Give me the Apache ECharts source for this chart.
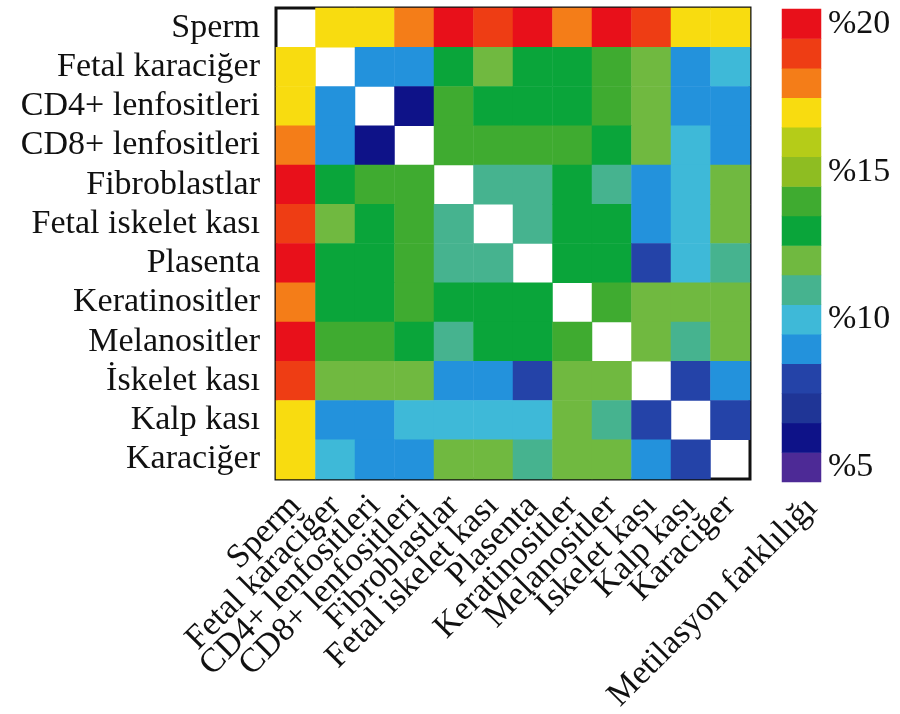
<!DOCTYPE html>
<html>
<head>
<meta charset="utf-8">
<script src="https://cdn.jsdelivr.net/npm/echarts@6/dist/echarts.min.js"></script>
<style>
  html, body { margin: 0; padding: 0; background: #fff; }
  #main { width: 900px; height: 714px; }
</style>
</head>
<body>
<div id="main"></div>
<script>
// doku isimleri (satir = sutun)
var tissues = ['Sperm', 'Fetal karaciğer', 'CD4+ lenfositleri', 'CD8+ lenfositleri',
  'Fibroblastlar', 'Fetal iskelet kası', 'Plasenta', 'Keratinositler',
  'Melanositler', 'İskelet kası', 'Kalp kası', 'Karaciğer'];

// metilasyon farki (%), kosegen bos
var rowSperm      = [null, 17, 17, 18, 20, 19, 20, 18, 20, 19, 17, 17];
var rowFetalKc    = [17, null, 9, 9, 13, 12, 13, 13, 14, 12, 9, 10];
var rowCD4        = [17, 9, null, 6, 14, 13, 13, 13, 14, 12, 9, 9];
var rowCD8        = [18, 9, 6, null, 14, 14, 14, 14, 13, 12, 10, 9];
var rowFibro      = [20, 13, 14, 14, null, 11, 11, 13, 11, 9, 10, 12];
var rowFetalIsk   = [19, 12, 13, 14, 11, null, 11, 13, 13, 9, 10, 12];
var rowPlasenta   = [20, 13, 13, 14, 11, 11, null, 13, 13, 8, 10, 11];
var rowKerat      = [18, 13, 13, 14, 13, 13, 13, null, 14, 12, 12, 12];
var rowMelano     = [20, 14, 14, 13, 11, 13, 13, 14, null, 12, 11, 12];
var rowIskelet    = [19, 12, 12, 12, 9, 9, 8, 12, 12, null, 8, 9];
var rowKalp       = [17, 9, 9, 10, 10, 10, 10, 12, 11, 8, null, 8];
var rowKaraciger  = [17, 10, 9, 9, 12, 12, 11, 12, 12, 9, 8, null];

var matrixRows = [rowSperm, rowFetalKc, rowCD4, rowCD8, rowFibro, rowFetalIsk,
  rowPlasenta, rowKerat, rowMelano, rowIskelet, rowKalp, rowKaraciger];

// renk skalasi: %5 .. %20
var levels = [5, 6, 7, 8, 9, 10, 11, 12, 13, 14, 15, 16, 17, 18, 19, 20];
var levelColors = ['#4d2a96', '#0e1288', '#1f3596', '#2443a8', '#2392dc', '#3eb9d8',
  '#46b38f', '#70b940', '#0aa53a', '#3fab30', '#8ebd22', '#b5cc18',
  '#f8dc10', '#f47d18', '#ee3d14', '#e8101a'];
var tickLabels = ['%5', '%10', '%15', '%20'];

var cells = [];
matrixRows.forEach(function (row, r) {
  row.forEach(function (v, c) {
    cells.push([c, r, v == null ? '-' : v]);
  });
});
var barCells = levels.map(function (v, i) { return [0, i, v]; });

var myChart = echarts.init(document.getElementById('main'));
var font = '"Liberation Serif", "Times New Roman", serif';
var fs = 34;

option = {
  backgroundColor: '#fff',
  animation: false,
  textStyle: { fontFamily: font },
  grid: [
    { left: 276, top: 8, width: 474, height: 471, show: true, borderColor: '#111', borderWidth: 3, backgroundColor: '#fff' },
    { left: 782, top: 9, width: 39, height: 473 }
  ],
  xAxis: [{
    type: 'category',
    gridIndex: 0,
    data: tissues,
    axisLine: { show: false },
    axisTick: { show: false },
    splitLine: { show: false },
    axisLabel: {
      rotate: 45, interval: 0, margin: 22,
      fontFamily: font, fontSize: fs, color: '#111'
    }
  }, {
    type: 'category',
    gridIndex: 1,
    data: ['x'],
    show: false
  }],
  yAxis: [{
    type: 'category',
    gridIndex: 0,
    data: tissues,
    inverse: true,
    axisLine: { show: false },
    axisTick: { show: false },
    splitLine: { show: false },
    axisLabel: {
      interval: 0, margin: 16,
      fontFamily: font, fontSize: fs, color: '#111'
    }
  }, {
    type: 'category',
    gridIndex: 1,
    position: 'right',
    data: levels.map(String),
    axisLine: { show: false },
    axisTick: { show: false },
    axisLabel: {
      margin: 7,
      fontFamily: font, fontSize: fs, color: '#111',
      interval: function (i, v) { return tickLabels.indexOf('%' + v) >= 0; },
      formatter: function (v) { return '%' + v; }
    }
  }],
  visualMap: {
    type: 'piecewise',
    show: false,
    seriesIndex: [0, 1],
    pieces: levels.map(function (v, i) { return { value: v, color: levelColors[i] }; })
  },
  series: [{
    type: 'heatmap',
    xAxisIndex: 0,
    yAxisIndex: 0,
    data: cells,
    itemStyle: { borderWidth: 0 },
    emphasis: { disabled: true }
  }, {
    type: 'heatmap',
    xAxisIndex: 1,
    yAxisIndex: 1,
    data: barCells,
    itemStyle: { borderWidth: 0 },
    emphasis: { disabled: true }
  }],
  graphic: [{
    type: 'text',
    x: 812,
    y: 503,
    rotation: Math.PI / 4,
    style: {
      text: 'Metilasyon farklılığı',
      font: fs + 'px ' + font,
      fill: '#111',
      textAlign: 'right',
      textVerticalAlign: 'middle'
    }
  }]
};

myChart.setOption(option);
window.addEventListener('resize', function () {
  myChart.resize();
});
</script>
</body>
</html>
